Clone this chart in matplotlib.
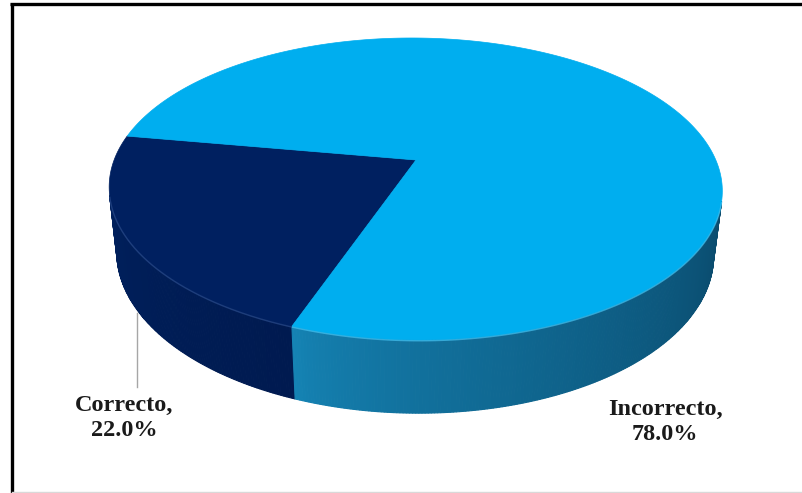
import numpy as np
import matplotlib.pyplot as plt
from matplotlib.patches import Polygon
from matplotlib.colors import to_rgb

# data
labels = ['Correcto', 'Incorrecto']
values = [22.0, 78.0]
top_colors = ['#002060', '#00AEEF']
side_colors = [('#001a50', '#00205c'), ('#1584b5', '#0a4a6c')]  # (near start, far end)
rim_colors = ['#2b4c8c', '#45c3f2']

# 3D view settings (pixel layout)
ELEV = np.radians(28.9)
DIST = 4.56
HEIGHT = 0.25
ROLL = np.radians(0.5)
SCALE = 1372
CX, CY = 416, 160
START = 109.5


def project(X, Y, Z):
    se, ce = np.sin(ELEV), np.cos(ELEV)
    d = DIST - Y * se - Z * ce
    px = SCALE * X / d
    py = -SCALE * (Y * ce - Z * se) / d
    rx = px * np.cos(ROLL) - py * np.sin(ROLL)
    ry = px * np.sin(ROLL) + py * np.cos(ROLL)
    return CX + rx, CY + ry


def rim(t, y):
    t = np.radians(t)
    return project(np.cos(t), y, np.sin(t))


def mix(c1, c2, f):
    a, b = np.array(to_rgb(c1)), np.array(to_rgb(c2))
    return tuple(a + (b - a) * f)


fig = plt.figure(figsize=(8.02, 4.93), dpi=100)
ax = fig.add_axes([0, 0, 1, 1])
ax.set_xlim(0, 802)
ax.set_ylim(493, 0)
ax.axis('off')

total = sum(values)
edges = [START]
for v in values:
    edges.append(edges[-1] + 360 * v / total)

vis_limit = 1 / (DIST * np.cos(ELEV))

# side walls
for i in range(len(values)):
    a0, a1 = edges[i], edges[i + 1]
    ts = np.arange(a0, a1, 0.5)
    ts = np.append(ts, a1)
    for j in range(len(ts) - 1):
        tm = 0.5 * (ts[j] + ts[j + 1])
        if np.sin(np.radians(tm)) <= vis_limit:
            continue
        # shade by distance from the slice boundary at the front
        if i == 0:
            f = np.clip((tm - START) / 57, 0, 1)
        else:
            tt = tm % 360
            f = np.clip((START - tt) / 97, 0, 1) ** 0.7
        col = mix(side_colors[i][0], side_colors[i][1], f)
        p0, p1 = rim(ts[j], 0), rim(ts[j + 1], 0)
        q0, q1 = rim(ts[j], -HEIGHT), rim(ts[j + 1], -HEIGHT)
        ax.add_patch(Polygon([p0, p1, q1, q0], closed=True, facecolor=col,
                             edgecolor=col, lw=0.8, zorder=2))

# top face
for i in range(len(values)):
    a0, a1 = edges[i], edges[i + 1]
    ts = np.linspace(a0, a1, 300)
    pts = [project(0, 0, 0)] + [rim(t, 0) for t in ts]
    ax.add_patch(Polygon(pts, closed=True, facecolor=top_colors[i],
                         edgecolor=top_colors[i], lw=0.5, zorder=3))
    # soft highlight on the front rim
    tf = ts[np.sin(np.radians(ts)) > vis_limit]
    if len(tf):
        xy = np.array([rim(t, 0) for t in tf])
        ax.plot(xy[:, 0], xy[:, 1] + 0.8, color=rim_colors[i], lw=1.0,
                alpha=0.7, zorder=4, solid_capstyle='butt')

# leader line and labels
ax.plot([137, 137], [313, 387], color='#a6a6a6', lw=1.0, zorder=1)
font = dict(family='Liberation Serif', fontsize=17.5, fontweight='bold',
            color='#1a1a1a', ha='center', va='center', linespacing=1.3)
ax.text(124, 418, f'{labels[0]},\n{values[0]:.1f}%', **font)
ax.text(665, 422, f'{labels[1]},\n{values[1]:.1f}%', **font)

# frame
ax.plot([10, 802], [4, 4], color='black', lw=2.4, solid_capstyle='butt')
ax.plot([11.5, 11.5], [3, 493], color='black', lw=2.4, solid_capstyle='butt')
ax.plot([12, 802], [491.5, 491.5], color='#d9d9d9', lw=1.0)

fig.savefig('out.png', dpi=100)
